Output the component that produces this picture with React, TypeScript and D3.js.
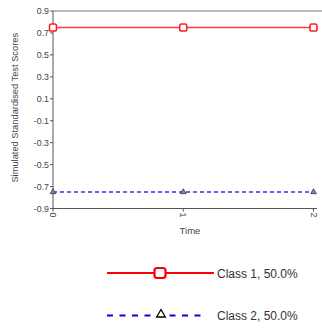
import * as d3 from "d3";

const times = [0, 1, 2];
const class1 = [0.75, 0.75, 0.75];
const class2 = [-0.75, -0.75, -0.75];
const yTicks = [0.9, 0.7, 0.5, 0.3, 0.1, -0.1, -0.3, -0.5, -0.7, -0.9];
const legendLabels = ["Class 1, 50.0%", "Class 2, 50.0%"];

const font = "Liberation Sans, Arial, sans-serif";

export default function App() {
  const width = 322;
  const height = 329;
  const plot = { left: 53, right: 313.5, top: 11, bottom: 208.5 };

  const x = d3.scaleLinear().domain([0, 2]).range([plot.left, plot.right]);
  const y = d3.scaleLinear().domain([-0.9, 0.9]).range([plot.bottom, plot.top]);

  const line = d3
    .line<number>()
    .x((_, i) => x(times[i]))
    .y((d) => y(d));

  const tri = d3.symbol().type(d3.symbolTriangle);

  return (
    <svg
      width={width}
      height={height}
      style={{ position: "absolute", left: 0, top: 0, background: "#fff" }}
      fontFamily={font}
    >
      {/* frame lines */}
      <line x1={plot.left} x2={width} y1={plot.top} y2={plot.top} stroke="#777" strokeWidth={1} />
      <line x1={plot.left} x2={plot.left} y1={plot.top} y2={plot.bottom} stroke="#555" strokeWidth={1} />
      <line x1={plot.left} x2={317} y1={plot.bottom} y2={plot.bottom} stroke="#555" strokeWidth={1} />

      {/* y axis */}
      {yTicks.map((t) => (
        <g key={t}>
          <line x1={plot.left - 3} x2={plot.left} y1={y(t)} y2={y(t)} stroke="#555" />
          <text
            x={plot.left - 4}
            y={y(t)}
            textAnchor="end"
            dominantBaseline="central"
            fontSize={8.8}
            fill="#444"
          >
            {t.toFixed(1)}
          </text>
        </g>
      ))}
      <text
        transform={`translate(15,${(plot.top + plot.bottom) / 2 - 2}) rotate(-90)`}
        textAnchor="middle"
        dominantBaseline="central"
        fontSize={9.3}
        fill="#444"
      >
        Simulated Standardised Test Scores
      </text>

      {/* x axis */}
      {times.map((t) => (
        <g key={t}>
          <line x1={x(t)} x2={x(t)} y1={plot.bottom} y2={plot.bottom + 3} stroke="#555" />
          <text
            transform={`translate(${x(t)},${plot.bottom + 4}) rotate(90)`}
            textAnchor="start"
            dominantBaseline="central"
            fontSize={8.8}
            fill="#444"
          >
            {t}
          </text>
        </g>
      ))}
      <text x={190} y={230} textAnchor="middle" dominantBaseline="central" fontSize={9.5} fill="#444">
        Time
      </text>

      {/* series */}
      <path d={line(class1) || ""} fill="none" stroke="#ff3b3b" strokeWidth={1.6} />
      {class1.map((v, i) => (
        <rect
          key={i}
          x={x(times[i]) - 3.5}
          y={y(v) - 3.5}
          width={7}
          height={7}
          rx={1.8}
          fill="#fff"
          stroke="#ff2020"
          strokeWidth={1.6}
        />
      ))}
      <path
        d={line(class2) || ""}
        fill="none"
        stroke="#3333ee"
        strokeWidth={1.4}
        strokeDasharray="4,3"
      />
      {class2.map((v, i) => (
        <path
          key={i}
          d={tri.size(14)() || ""}
          transform={`translate(${x(times[i])},${y(v)})`}
          fill="#889"
          stroke="#334"
          strokeWidth={0.8}
        />
      ))}

      {/* legend */}
      <line x1={107} x2={214} y1={273} y2={273} stroke="#ff0000" strokeWidth={2.2} />
      <rect x={154.5} y={268} width={11} height={10} rx={2.5} fill="#fff" stroke="#ff0000" strokeWidth={2.2} />
      <text x={217} y={273.5} dominantBaseline="central" fontSize={12} fill="#333">
        {legendLabels[0]}
      </text>

      <line
        x1={107}
        x2={206}
        y1={315.5}
        y2={315.5}
        stroke="#0000ee"
        strokeWidth={2.2}
        strokeDasharray="6,6.5"
      />
      <rect x={154} y={309} width={13} height={12} fill="#fff" />
      <path
        d={tri.size(32)() || ""}
        transform="translate(161,314.5)"
        fill="#fff"
        stroke="#000"
        strokeWidth={1.3}
      />
      <text x={217} y={315.5} dominantBaseline="central" fontSize={12} fill="#333">
        {legendLabels[1]}
      </text>
    </svg>
  );
}
